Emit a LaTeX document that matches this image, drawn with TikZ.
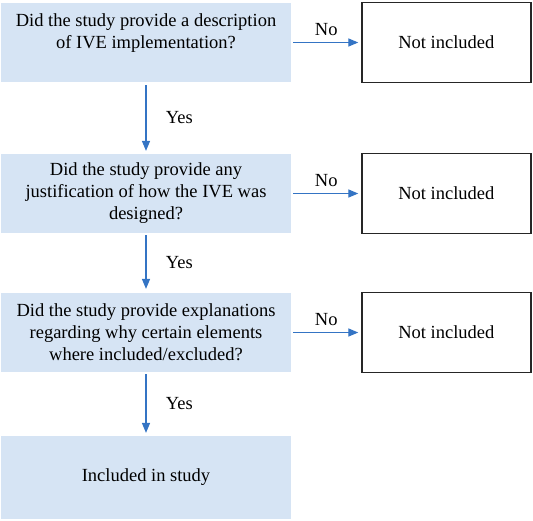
\documentclass[tikz,border=0pt]{standalone}
\usepackage{fontspec}
\setmainfont{Liberation Serif}
\usetikzlibrary{arrows,positioning}

\definecolor{qfill}{RGB}{214,228,244}
\definecolor{flowblue}{RGB}{52,116,196}

\begin{document}
\begin{tikzpicture}[
    x=1pt, y=1pt,
    every node/.style={font=\rmfamily\fontsize{18.5}{22}\selectfont},
    qbox/.style={fill=qfill, minimum width=290pt, align=center, inner sep=0pt},
    outbox/.style={draw=black!85, line width=1.3pt, minimum width=169pt, minimum height=80pt, inner sep=0pt},
    flow/.style={draw=flowblue, line width=1.3pt, -triangle 45},
]
    \useasboundingbox (0,0) rectangle (533,-520);

    % questions
    \node[qbox, minimum height=79pt] (q1) at (146,-42.5) {Did the study provide a description\\of IVE implementation?\\[0pt]};
    \node[qbox, minimum height=79pt] (q2) at (146,-193.5) {Did the study provide any\\justification of how the IVE was\\designed?};
    \node[qbox, minimum height=79pt] (q3) at (146,-332.5) {Did the study provide explanations\\regarding why certain elements\\where included/excluded?};
    \node[qbox, minimum height=83pt] (incl) at (146,-477.5) {Included in study};

    % outcomes
    \node[outbox, right=70pt of q1] (out1) {Not included};
    \node[outbox, right=70pt of q2] (out2) {Not included};
    \node[outbox, right=70pt of q3] (out3) {Not included};

    % connectors
    \draw[flow, shorten <=3pt, shorten >=3pt] (q1) -- node[right=16pt, black] {Yes} (q2);
    \draw[flow, shorten <=2pt, shorten >=4pt] (q2) -- node[right=16pt, black] {Yes} (q3);
    \draw[flow, shorten <=2pt, shorten >=3pt] (q3) -- node[right=16pt, black] {Yes} (incl);

    \draw[flow, shorten <=2pt, shorten >=3pt] (q1.east) -- node[above=3pt, black] {No} (out1.west |- q1.east);
    \draw[flow, shorten <=2pt, shorten >=3pt] (q2.east) -- node[above=3pt, black] {No} (out2.west |- q2.east);
    \draw[flow, shorten <=2pt, shorten >=3pt] (q3.east) -- node[above=3pt, black] {No} (out3.west |- q3.east);
\end{tikzpicture}
\end{document}
